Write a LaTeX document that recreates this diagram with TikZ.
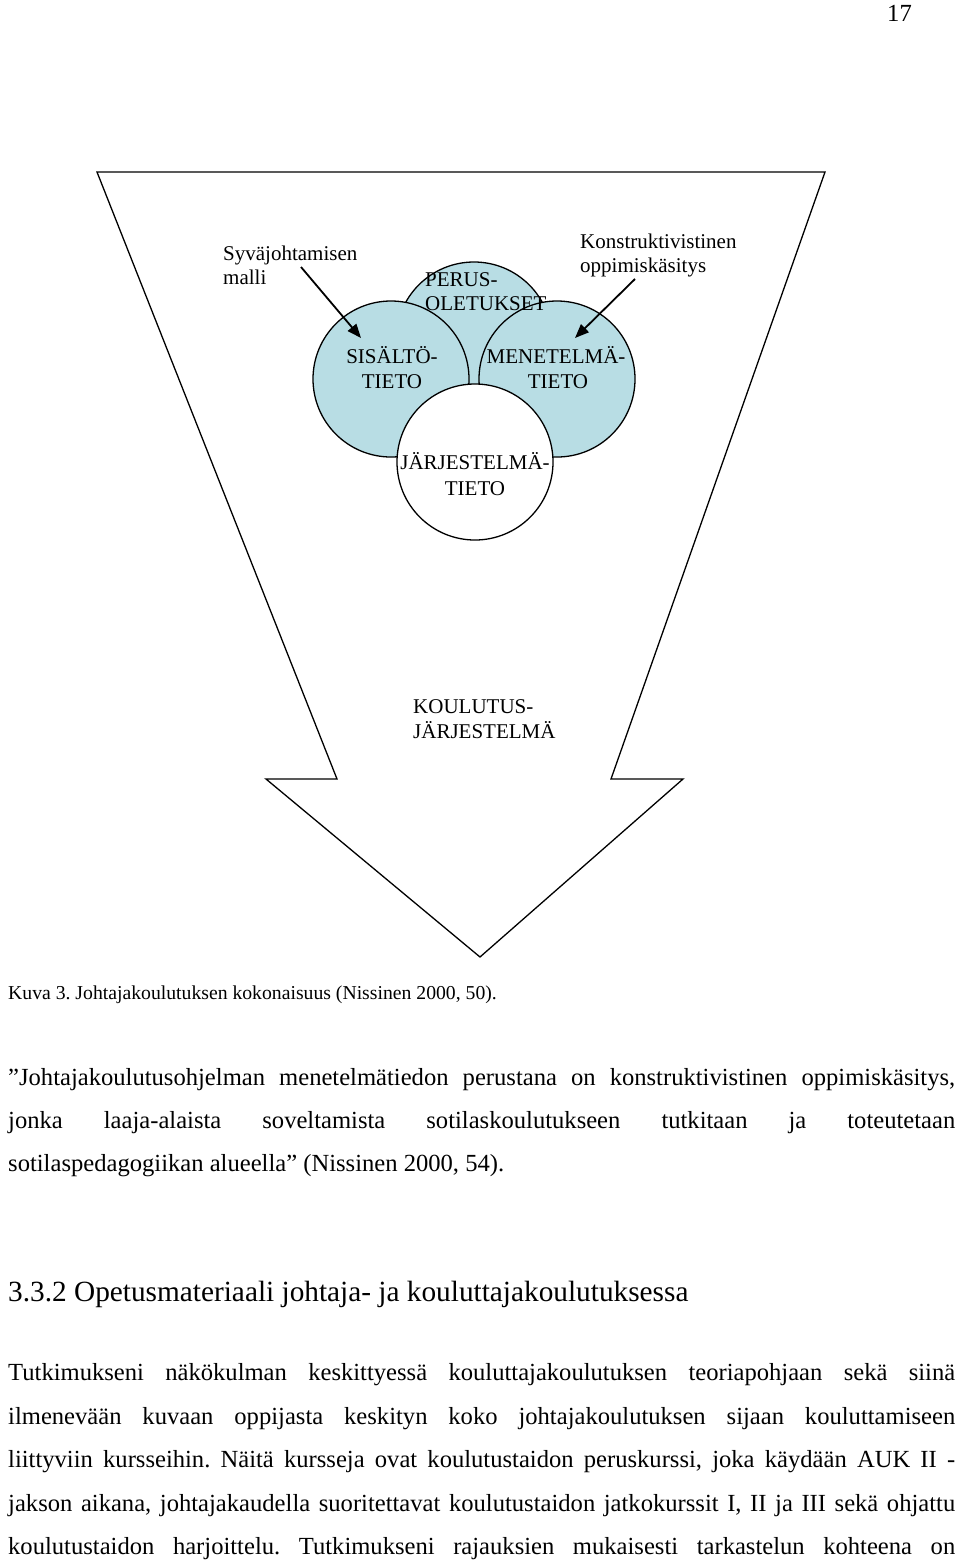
\documentclass[tikz,border=0pt]{standalone}
\usepackage{fontspec}
\setmainfont{Liberation Serif}
\usetikzlibrary{arrows.meta}
\definecolor{circfill}{RGB}{184,221,228}
\begin{document}
\frenchspacing
\begin{tikzpicture}[x=1pt,y=-1pt,
  lbl/.style={font=\fontsize{21}{25}\selectfont, inner sep=0pt},
  lblw/.style={lbl, anchor=base west},
  lblc/.style={lbl, anchor=base},
  circ/.style={circle, draw=black, line width=1.3pt, minimum size=156pt, inner sep=0pt},
  captiontext/.style={font=\fontsize{19.7}{24}\selectfont, anchor=base west, inner sep=0pt},
  bodytext/.style={font=\fontsize{24.6}{29}\selectfont, anchor=base west, inner sep=0pt},
  pointer/.style={line width=1.8pt, -{Triangle[length=14pt,width=11pt]}},
  outline/.style={line width=1.3pt, draw=black, fill=white, line join=miter}]
\useasboundingbox (0,0) rectangle (960,1561);
\fill[white] (0,0) rectangle (960,1561);

% page number
\node[bodytext] (pagenum) at (887,21) {17};

% big arrow
\draw[outline] (97,172) -- (825,172) -- (611,779) -- (683,779) -- (480,957) -- (266,779) -- (337,779) -- cycle;

% circles
\node[circ, fill=circfill] (perus) at (474,340) {};
\node[circ, fill=circfill] (sis) at (391,379) {};
\node[circ, fill=circfill] (men) at (557,379) {};
\node[circ, fill=white] (jar) at (475,462) {};

% circle labels
\node[lblw] (perus1) at (425,286) {PERUS-};
\node[lblw] (perus2) at (425,310) {OLETUKSET};
\node[lblc] (sis1) at (392,363) {SISÄLTÖ-};
\node[lblc] (sis2) at (392,388) {TIETO};
\node[lblc] (men1) at (556,363) {MENETELMÄ-};
\node[lblc] (men2) at (558,388) {TIETO};
\node[lblc] (jar1) at (475,469) {JÄRJESTELMÄ-};
\node[lblc] (jar2) at (475,495) {TIETO};

% outer labels
\node[lblw] (syva1) at (223,260) {Syväjohtamisen};
\node[lblw] (syva2) at (223,284) {malli};
\node[lblw] (kons1) at (580,248) {Konstruktivistinen};
\node[lblw] (kons2) at (580,272) {oppimiskäsitys};
\node[lblw] (kou1) at (413,713) {KOULUTUS-};
\node[lblw] (kou2) at (413,738) {JÄRJESTELMÄ};

% pointers
\coordinate (p1s) at (301,267);
\coordinate (p1e) at (361,338);
\coordinate (p2s) at (635,279);
\coordinate (p2e) at (575,338);
\draw[pointer] (p1s) -- (p1e);
\draw[pointer] (p2s) -- (p2e);

% caption and text
\node[captiontext] (caption) at (8,999) {Kuva 3. Johtajakoulutuksen kokonaisuus (Nissinen 2000, 50).};
\node[bodytext] (q1) at (8,1085) {\hbox to 947pt{”Johtajakoulutusohjelman menetelmätiedon perustana on konstruktivistinen oppimiskäsitys,}};
\node[bodytext] (q2) at (8,1128) {\hbox to 947pt{jonka laaja-alaista soveltamista sotilaskoulutukseen tutkitaan ja toteutetaan}};
\node[bodytext] (q3) at (8,1171) {sotilaspedagogiikan alueella” (Nissinen 2000, 54).};
\node[bodytext, font=\fontsize{29.3}{34}\selectfont] (heading) at (8,1301) {3.3.2 Opetusmateriaali johtaja- ja kouluttajakoulutuksessa};
\node[bodytext] (b1) at (8,1380) {\hbox to 947pt{Tutkimukseni näkökulman keskittyessä kouluttajakoulutuksen teoriapohjaan sekä siinä}};
\node[bodytext] (b2) at (8,1424) {\hbox to 947pt{ilmenevään kuvaan oppijasta keskityn koko johtajakoulutuksen sijaan kouluttamiseen}};
\node[bodytext] (b3) at (8,1467) {\hbox to 947pt{liittyviin kursseihin. Näitä kursseja ovat koulutustaidon peruskurssi, joka käydään AUK II -}};
\node[bodytext] (b4) at (8,1511) {\hbox to 947pt{jakson aikana, johtajakaudella suoritettavat koulutustaidon jatkokurssit I, II ja III sekä ohjattu}};
\node[bodytext] (b5) at (8,1554) {\hbox to 947pt{koulutustaidon harjoittelu. Tutkimukseni rajauksien mukaisesti tarkastelun kohteena on}};
\end{tikzpicture}
\end{document}
